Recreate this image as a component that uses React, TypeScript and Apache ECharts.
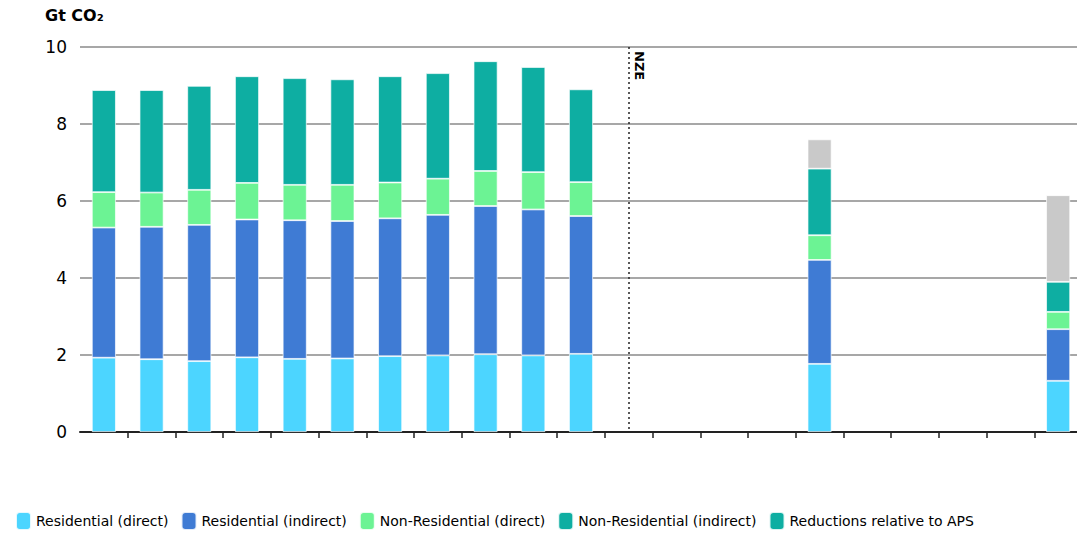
import React, { useEffect, useRef } from "react";
import * as echarts from "echarts";

const years = [
  "2010", "2011", "2012", "2013", "2014", "2015", "2016", "2017", "2018", "2019", "2020",
  "2021", "2022", "2023", "2024", "2025", "2026", "2027", "2028", "2029", "2030",
];
const nzeYear = "2021";

const residentialDirect = [1.93, 1.89, 1.84, 1.94, 1.9, 1.91, 1.97, 1.99, 2.02, 1.99, 2.03, null, null, null, null, 1.77, null, null, null, null, 1.33];
const residentialIndirect = [3.38, 3.44, 3.54, 3.58, 3.6, 3.57, 3.58, 3.65, 3.85, 3.79, 3.58, null, null, null, null, 2.7, null, null, null, null, 1.34];
const nonResidentialDirect = [0.92, 0.89, 0.91, 0.95, 0.92, 0.94, 0.93, 0.94, 0.91, 0.97, 0.88, null, null, null, null, 0.64, null, null, null, null, 0.45];
const nonResidentialIndirect = [2.65, 2.66, 2.7, 2.77, 2.77, 2.74, 2.76, 2.74, 2.85, 2.73, 2.41, null, null, null, null, 1.73, null, null, null, null, 0.78];
const reductionsVsAps = [null, null, null, null, null, null, null, null, null, null, null, null, null, null, null, 0.76, null, null, null, null, 2.25];

const seriesNames = [
  "Residential (direct)",
  "Residential (indirect)",
  "Non-Residential (direct)",
  "Non-Residential (indirect)",
  "Reductions relative to APS",
];
const colors = ["#4cd5ff", "#3f7bd4", "#6cf394", "#0eaea2", "#c9c9c9"];
const legendIconColors = ["#4cd5ff", "#3f7bd4", "#6cf394", "#0eaea2", "#0eaea2"];

const FONT = "'DejaVu Sans', sans-serif";

export default function App() {
  const ref = useRef<HTMLDivElement>(null);

  useEffect(() => {
    if (!ref.current) return;
    const chart = echarts.init(ref.current, undefined, { renderer: "svg" });
    const dataSets = [residentialDirect, residentialIndirect, nonResidentialDirect, nonResidentialIndirect, reductionsVsAps];

    const series: any[] = dataSets.map((d, i) => ({
      name: seriesNames[i],
      type: "bar",
      stack: "total",
      barWidth: 24,
      data: d,
      itemStyle: { color: colors[i], borderColor: "rgba(255,255,255,0.85)", borderWidth: 0.8 },
    }));
    series[0].markLine = {
      silent: true,
      symbol: ["none", "none"],
      lineStyle: { type: [2, 3], color: "#222", width: 1.5 },
      label: {
        show: true,
        formatter: "NZE",
        position: "insideStartTop",
        distance: 4,
        color: "#000",
        fontFamily: FONT,
        fontSize: 13,
        fontWeight: "bold",
      },
      data: [[{ coord: [nzeYear, 10] }, { coord: [nzeYear, 0] }]],
    };

    chart.setOption({
      animation: false,
      grid: { left: 80, right: 10, top: 47, bottom: 105 },
      graphic: [
        {
          type: "text",
          left: 45,
          top: 7,
          style: { text: "Gt CO₂", fontFamily: FONT, fontSize: 16, fontWeight: "bold", fill: "#000" },
        },
      ],
      legend: {
        left: 10,
        bottom: 1,
        icon: "roundRect",
        itemWidth: 15,
        itemHeight: 18,
        itemGap: 12,
        textStyle: { fontFamily: FONT, fontSize: 14, color: "#000" },
        data: seriesNames.map((n, i) => ({ name: n, itemStyle: { color: legendIconColors[i] } })),
      },
      xAxis: {
        type: "category",
        data: years,
        boundaryGap: true,
        axisLine: { lineStyle: { color: "#222", width: 2 } },
        axisTick: {
          show: true,
          length: 6,
          inside: false,
          interval: (i: number) => i > 0,
          lineStyle: { color: "#222", width: 1.5 },
        },
        axisLabel: { show: false },
      },
      yAxis: {
        type: "value",
        min: 0,
        max: 10,
        interval: 2,
        axisLine: { show: false },
        axisTick: { show: false },
        axisLabel: { fontFamily: FONT, fontSize: 17, color: "#000", margin: 13 },
        splitLine: { lineStyle: { color: "#8a8a8a", width: 1.5 } },
      },
      series,
    });
    return () => chart.dispose();
  }, []);

  return (
    <div style={{ position: "absolute", left: 0, top: 0, width: 1077, height: 537, overflow: "hidden", background: "#fff" }}>
      <div ref={ref} style={{ width: 1092, height: 537 }} />
    </div>
  );
}
